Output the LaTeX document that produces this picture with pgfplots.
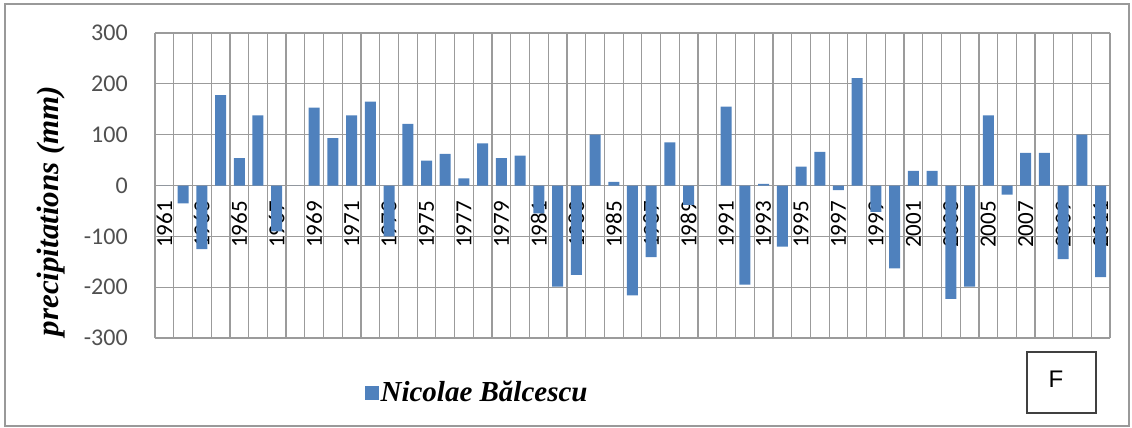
\documentclass[border=0pt]{standalone}
\usepackage{fontspec}
\setmainfont{Liberation Serif}
\newfontfamily\carlito{Carlito}
\newfontfamily\arial{Liberation Sans}
\usepackage{pgfplots}
\pgfplotsset{compat=1.18}
\definecolor{barblue}{RGB}{79,129,189}
\definecolor{gridgray}{RGB}{155,155,155}
\definecolor{labgray}{RGB}{80,80,80}
\begin{document}
\begin{tikzpicture}
\useasboundingbox (0,0) rectangle (566pt,-214pt);
\draw[gray!80, line width=0.6pt] (2.5pt,-2pt) rectangle (564.5pt,-213pt);
\begin{axis}[
  at={(77.5pt,-16.5pt)}, anchor=north west,
  scale only axis, width=477.5pt, height=152.5pt,
  axis x line=middle, axis y line=left,
  axis line style={-, draw=gridgray, line width=0.6pt},
  xmin=-0.5, xmax=50.5, ymin=-300, ymax=300,
  enlargelimits=false,
  ytick={-300,-200,-100,0,100,200,300},
  yticklabels={-300,-200,-100,0,100,200,300},
  yticklabel style={font=\carlito\fontsize{12}{13}\selectfont, text=labgray, xshift=-8pt},
  xtick={0,2,...,50},
  xticklabels={1961,1963,1965,1967,1969,1971,1973,1975,1977,1979,1981,1983,1985,1987,1989,1991,1993,1995,1997,1999,2001,2003,2005,2007,2009,2011},
  xticklabel style={font=\carlito\fontsize{11.5}{12}\selectfont, rotate=90, anchor=east},
  minor xtick={-0.5,0.5,...,50.5},
  xminorgrids, ymajorgrids,
  minor grid style={gridgray, line width=0.6pt},
  major grid style={gridgray, line width=0.6pt},
  tick style={draw=none},
  ybar, bar width=5.5pt,
  legend style={at={(0.2128,-0.18)}, anchor=west, draw=none, fill=none,
    font=\bfseries\itshape\fontsize{14.5}{16}\selectfont,
    nodes={inner sep=1pt}},
  legend image code/.code={\fill[barblue] (0pt,-3.5pt) rectangle (7pt,3.5pt);},
]
\addplot[fill=barblue, draw=none] coordinates {
  (0,0) (1,-35) (2,-125) (3,178) (4,54) (5,138) (6,-90) (7,0) (8,153) (9,93)
  (10,138) (11,165) (12,-100) (13,121) (14,49) (15,62) (16,14) (17,83) (18,54) (19,59)
  (20,-55) (21,-199) (22,-176) (23,100) (24,7) (25,-216) (26,-141) (27,85) (28,-38) (29,0)
  (30,155) (31,-195) (32,3) (33,-120) (34,37) (35,66) (36,-9) (37,211) (38,-52) (39,-163)
  (40,29) (41,29) (42,-223) (43,-199) (44,138) (45,-18) (46,64) (47,64) (48,-145) (49,100)
  (50,-180)
};
\addlegendentry{Nicolae Bălcescu}
\end{axis}
\node[rotate=90, font=\bfseries\itshape\fontsize{15.5}{18}\selectfont] at (25.75pt,-105.5pt) {precipitations (mm)};
\draw[black!75, line width=1pt] (513.5pt,-176pt) rectangle (548pt,-206.5pt);
\node[font=\arial\fontsize{12}{14}\selectfont] at (528pt,-189.5pt) {F};
\end{tikzpicture}
\end{document}
